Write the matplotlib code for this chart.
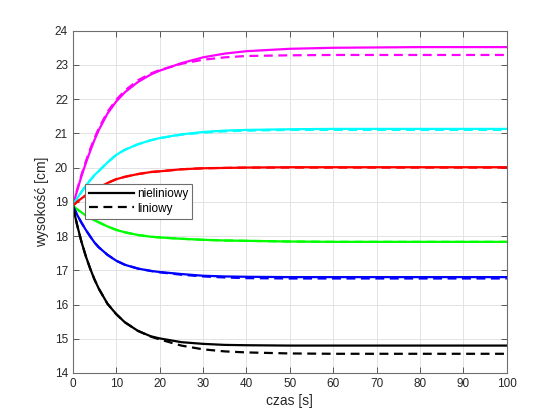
import matplotlib
matplotlib.use("Agg")
import matplotlib.pyplot as plt

plt.rcParams['font.family'] = ['Liberation Sans', 'DejaVu Sans']

# time points [s]
czas = [0, 1, 2, 3, 4, 5, 6, 8, 10, 12, 15, 18, 20, 25, 30, 35, 40, 50, 60, 70, 80, 100]

# heights [cm], solid = nonlinear model, dashed = linear model
m_nl = [18.88, 19.33, 19.75, 20.13, 20.48, 20.81, 21.10, 21.58, 21.93, 22.20, 22.50,
        22.72, 22.83, 23.05, 23.22, 23.33, 23.40, 23.47, 23.50, 23.51, 23.52, 23.52]
m_l = [18.88, 19.35, 19.79, 20.18, 20.54, 20.86, 21.15, 21.63, 21.98, 22.25, 22.55,
       22.75, 22.85, 23.03, 23.15, 23.22, 23.26, 23.28, 23.29, 23.29, 23.29, 23.29]

c_nl = [18.88, 19.10, 19.29, 19.47, 19.63, 19.78, 19.90, 20.15, 20.37, 20.52, 20.68,
        20.80, 20.86, 20.97, 21.04, 21.08, 21.10, 21.12, 21.13, 21.13, 21.13, 21.13]
c_l = [18.88, 19.10, 19.29, 19.47, 19.63, 19.78, 19.90, 20.15, 20.37, 20.52, 20.68,
       20.80, 20.86, 20.96, 21.02, 21.06, 21.08, 21.10, 21.10, 21.10, 21.10, 21.10]

r_nl = [18.88, 19.00, 19.10, 19.19, 19.28, 19.36, 19.42, 19.55, 19.66, 19.73, 19.81,
        19.87, 19.89, 19.95, 19.98, 19.99, 20.00, 20.01, 20.01, 20.01, 20.01, 20.01]
r_l = [18.88, 19.00, 19.10, 19.19, 19.28, 19.36, 19.42, 19.55, 19.66, 19.73, 19.81,
       19.87, 19.89, 19.95, 19.98, 19.99, 20.00, 20.00, 20.00, 20.00, 20.00, 20.00]

g_nl = [18.88, 18.78, 18.69, 18.60, 18.52, 18.46, 18.40, 18.28, 18.18, 18.11, 18.03,
        17.98, 17.96, 17.92, 17.89, 17.87, 17.86, 17.84, 17.83, 17.83, 17.83, 17.83]
g_l = [18.88, 18.78, 18.69, 18.60, 18.52, 18.46, 18.40, 18.28, 18.18, 18.11, 18.03,
       17.98, 17.96, 17.92, 17.89, 17.87, 17.86, 17.84, 17.83, 17.83, 17.83, 17.83]

b_nl = [18.88, 18.62, 18.39, 18.18, 17.99, 17.81, 17.67, 17.45, 17.28, 17.16, 17.05,
        16.98, 16.95, 16.89, 16.84, 16.82, 16.81, 16.80, 16.80, 16.80, 16.80, 16.80]
b_l = [18.88, 18.62, 18.39, 18.18, 17.99, 17.81, 17.67, 17.45, 17.28, 17.16, 17.05,
       16.98, 16.94, 16.87, 16.82, 16.79, 16.77, 16.76, 16.76, 16.76, 16.76, 16.76]

k_nl = [18.88, 18.32, 17.83, 17.41, 17.05, 16.73, 16.46, 16.02, 15.72, 15.48, 15.23,
        15.07, 15.01, 14.90, 14.85, 14.82, 14.81, 14.80, 14.80, 14.80, 14.80, 14.80]
k_l = [18.88, 18.32, 17.83, 17.41, 17.05, 16.73, 16.46, 16.02, 15.72, 15.48, 15.23,
       15.06, 14.98, 14.80, 14.69, 14.63, 14.60, 14.57, 14.56, 14.56, 14.56, 14.56]

series = [
    ('#ff00ff', m_nl, m_l),
    ('#00ffff', c_nl, c_l),
    ('#ff0000', r_nl, r_l),
    ('#00ff00', g_nl, g_l),
    ('#0000ff', b_nl, b_l),
    ('#000000', k_nl, k_l),
]

fig = plt.figure(figsize=(5.6, 4.2), dpi=100)
ax = fig.add_axes([0.13, 0.112, 0.775, 0.815])

for col, nl, lin in series:
    if col == '#000000':
        ax.plot(czas, nl, color=col, lw=1.6, label='nieliniowy')
        ax.plot(czas, lin, color=col, lw=1.6, dashes=(4, 2.5), label='liniowy')
    else:
        ax.plot(czas, nl, color=col, lw=1.6)
        ax.plot(czas, lin, color=col, lw=1.6, dashes=(4, 2.5))

ax.set_xlim(0, 100)
ax.set_ylim(14, 24)
ax.set_xticks(range(0, 101, 10))
ax.set_yticks(range(14, 25))
ax.grid(True, color='#e3e3e3', lw=0.7)
ax.set_axisbelow(True)
ax.tick_params(direction='in', top=True, right=True, length=4, width=0.6,
               colors='#404040', labelsize=8.5, labelcolor='#262626')
for s in ax.spines.values():
    s.set_color('#6e6e6e')
    s.set_linewidth(0.8)

ax.set_xlabel('czas [s]', fontsize=10, color='#262626', labelpad=3)
ax.set_ylabel('wysokość [cm]', fontsize=10, color='#262626', labelpad=4)

leg = ax.legend(loc='upper left', bbox_to_anchor=(0.028, 0.552), fontsize=8.5,
                fancybox=False, framealpha=1, edgecolor='#6e6e6e',
                handlelength=3.8, handletextpad=0.25, borderpad=0.35,
                labelspacing=0.2, borderaxespad=0)
leg.get_frame().set_linewidth(0.8)

fig.savefig('out.png', dpi=100)
